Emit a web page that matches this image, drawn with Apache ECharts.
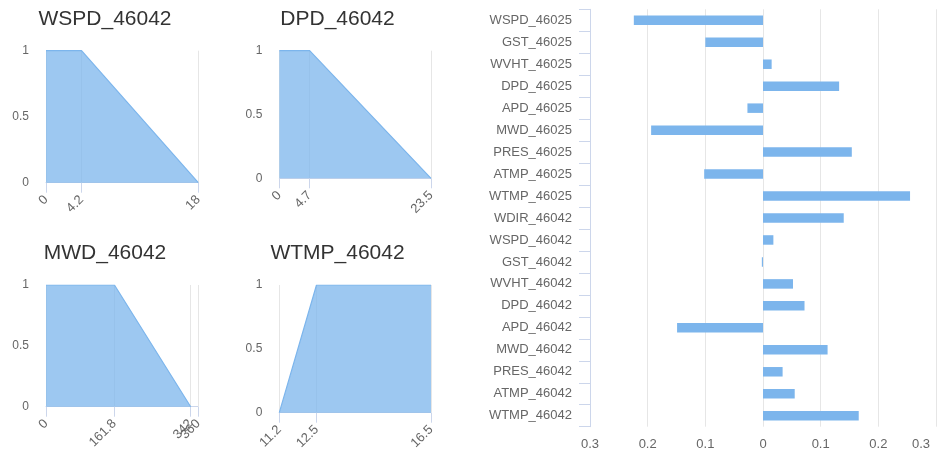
<!DOCTYPE html>
<html>
<head>
<meta charset="utf-8">
<script src="https://cdn.jsdelivr.net/npm/echarts@6/dist/echarts.min.js"></script>
<style>
  html, body { margin: 0; padding: 0; background: #fff; }
  #chart { width: 937px; height: 453px; }
</style>
</head>
<body>
<div id="chart"></div>
<script>
// Membership functions for four 46042 buoy variables
const wspdX = [0, 4.2, 18];
const wspdY = [1, 1, 0];
const wspdTicks = [0, 4.2, 18];

const dpdX = [0, 4.7, 23.5];
const dpdY = [1, 1, 0];
const dpdTicks = [0, 4.7, 23.5];

const mwdX = [0, 161.8, 342];
const mwdY = [1, 1, 0];
const mwdTicks = [0, 161.8, 342, 360];

const wtmpX = [11.2, 12.5, 16.5];
const wtmpY = [0, 1, 1];
const wtmpTicks = [11.2, 12.5, 16.5];

const memberTicksY = [0, 0.5, 1];

// Feature weights, top to bottom
const featureNames = [
  'WSPD_46025', 'GST_46025', 'WVHT_46025', 'DPD_46025', 'APD_46025',
  'MWD_46025', 'PRES_46025', 'ATMP_46025', 'WTMP_46025', 'WDIR_46042',
  'WSPD_46042', 'GST_46042', 'WVHT_46042', 'DPD_46042', 'APD_46042',
  'MWD_46042', 'PRES_46042', 'ATMP_46042', 'WTMP_46042'
];
const featureWeights = [
  -0.224, -0.100, 0.015, 0.132, -0.027,
  -0.194, 0.154, -0.102, 0.255, 0.140,
  0.018, -0.002, 0.052, 0.072, -0.149,
  0.112, 0.034, 0.055, 0.166
];
const weightTicks = [-0.3, -0.2, -0.1, 0, 0.1, 0.2, 0.3];

const FONT = '"Liberation Sans", Arial, sans-serif';
const BLUE = '#7cb5ec';

const panels = [
  { name: 'WSPD_46042', xs: wspdX, ys: wspdY, ticks: wspdTicks,
    grid: { left: 46, top: 50.7, width: 152.3, height: 132 }, title: [105, 19] },
  { name: 'DPD_46042', xs: dpdX, ys: dpdY, ticks: dpdTicks,
    grid: { left: 279.3, top: 50.7, width: 151.7, height: 127.6 }, title: [337.5, 19] },
  { name: 'MWD_46042', xs: mwdX, ys: mwdY, ticks: mwdTicks,
    grid: { left: 46, top: 285, width: 152.3, height: 121.7 }, title: [105, 253] },
  { name: 'WTMP_46042', xs: wtmpX, ys: wtmpY, ticks: wtmpTicks,
    grid: { left: 279.3, top: 285, width: 151.7, height: 127.7 }, title: [337.5, 253] }
];

const grids = [];
const xAxes = [];
const yAxes = [];
const series = [];
const graphics = [];

function tickLabel(values) {
  return {
    customValues: values, rotate: 45, margin: 15,
    color: '#666666', fontSize: 13, fontFamily: FONT,
    hideOverlap: false, showMinLabel: true, showMaxLabel: true
  };
}

panels.forEach(function (p, i) {
  grids.push(p.grid);
  const lo = p.ticks[0];
  const hi = p.ticks[p.ticks.length - 1];
  // Even-indexed ticks on the main axis, odd-indexed on an overlay axis,
  // so that close neighbours (342 / 360) both keep their labels.
  const evenTicks = p.ticks.filter(function (t, k) { return k % 2 === 0; });
  const oddTicks = p.ticks.filter(function (t, k) { return k % 2 === 1; });
  const mainX = xAxes.length;
  xAxes.push({
    type: 'value', gridIndex: i, min: lo, max: hi,
    axisLine: { show: true, onZero: false, lineStyle: { color: '#ccd6eb', width: 1 } },
    axisTick: { show: true, length: 10, customValues: p.ticks, lineStyle: { color: '#ccd6eb' } },
    axisLabel: tickLabel(evenTicks),
    splitLine: { show: false }
  });
  xAxes.push({
    type: 'value', gridIndex: i, min: lo, max: hi, position: 'bottom', offset: 0,
    axisLine: { show: false, onZero: false }, axisTick: { show: false },
    axisLabel: tickLabel(oddTicks),
    splitLine: { show: false }
  });
  yAxes.push({
    type: 'value', gridIndex: i, min: 0, max: 1, interval: 0.5,
    axisLine: { show: false }, axisTick: { show: false },
    axisLabel: {
      customValues: memberTicksY, margin: 17, color: '#666666',
      fontSize: 12, fontFamily: FONT, padding: [4, 0, 0, 0]
    },
    splitLine: { show: false }
  });
  series.push({
    type: 'line', xAxisIndex: mainX, yAxisIndex: i,
    data: p.xs.map(function (x, k) { return [x, p.ys[k]]; }),
    symbol: 'none', z: 2,
    lineStyle: { color: BLUE, width: 1.2 },
    areaStyle: { color: BLUE, opacity: 0.75, origin: 'start' },
    markLine: {
      silent: true, symbol: 'none', z: 1, animation: false,
      label: { show: false },
      lineStyle: { color: '#e6e6e6', type: 'solid', width: 1 },
      data: p.ticks.map(function (t) { return { xAxis: t }; })
    },
    animation: false
  });
  graphics.push({
    type: 'text', x: p.title[0], y: p.title[1],
    style: {
      text: p.name, fill: '#333333', font: '21px ' + FONT,
      align: 'center', verticalAlign: 'middle'
    }
  });
});

// Horizontal bar chart of the weights
const barGrid = grids.length;
grids.push({ left: 590, right: 1, top: 9.3, bottom: 26.3 });
const barX = xAxes.length;
xAxes.push({
  type: 'value', gridIndex: barGrid,
  min: weightTicks[0], max: weightTicks[weightTicks.length - 1], interval: 0.1,
  axisLine: { show: false }, axisTick: { show: false },
  splitLine: { show: true, lineStyle: { color: '#e6e6e6', width: 1 } },
  axisLabel: {
    color: '#666666', fontSize: 13, fontFamily: FONT, margin: 11,
    alignMaxLabel: 'right',
    formatter: function (v) {
      const s = String(Math.round(Math.abs(v) * 10) / 10);
      return v >= 0.3 - 1e-9 ? '{r|' + s + '}' : s;
    },
    rich: { r: { color: '#666666', fontSize: 13, fontFamily: FONT, padding: [0, 6, 0, 0] } }
  }
});
const barY = yAxes.length;
yAxes.push({
  type: 'category', gridIndex: barGrid, data: featureNames, inverse: true,
  axisLine: { show: true, onZero: false, lineStyle: { color: '#ccd6eb', width: 1 } },
  axisTick: { show: true, length: 11, lineStyle: { color: '#ccd6eb' } },
  axisLabel: { color: '#666666', fontSize: 13, fontFamily: FONT, margin: 18 },
  splitLine: { show: false }
});
series.push({
  type: 'bar', xAxisIndex: barX, yAxisIndex: barY,
  data: featureWeights, barWidth: 9.5,
  itemStyle: { color: BLUE },
  animation: false
});

const chart = echarts.init(document.getElementById('chart'), null, { renderer: 'canvas' });
chart.setOption({
  backgroundColor: '#ffffff',
  animation: false,
  grid: grids,
  xAxis: xAxes,
  yAxis: yAxes,
  series: series,
  graphic: graphics
});
</script>
</body>
</html>
